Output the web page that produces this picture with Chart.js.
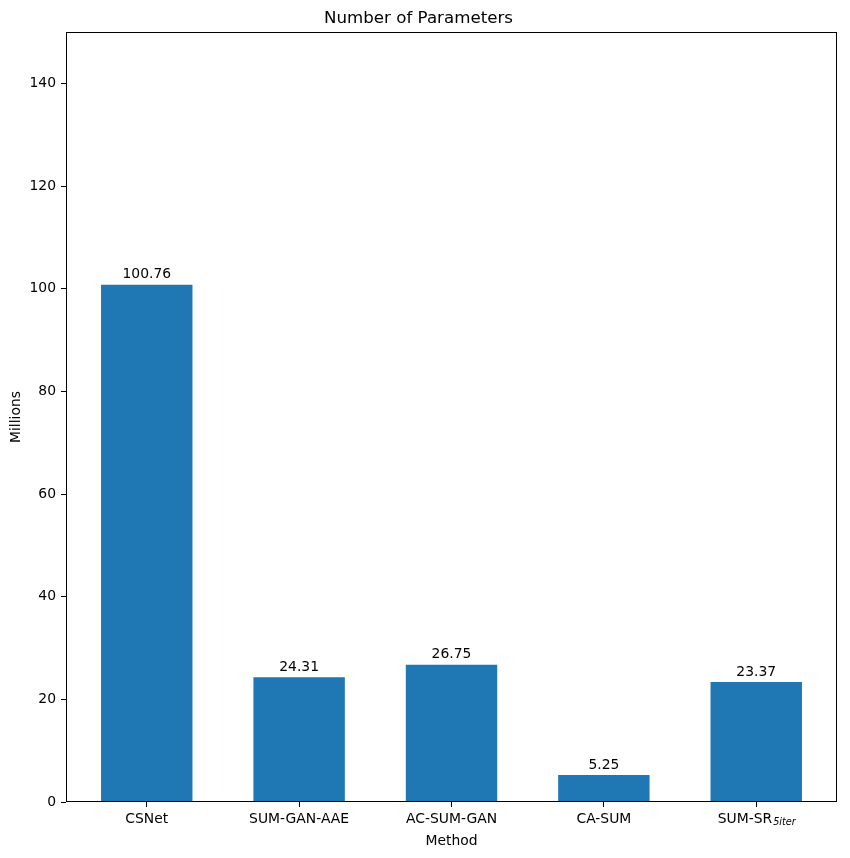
<!DOCTYPE html>
<html>
<head>
<meta charset="utf-8">
<script src="https://cdn.jsdelivr.net/npm/chart.js@4/dist/chart.umd.min.js"></script>
<style>
  html, body { margin: 0; padding: 0; background: #fff; }
  #wrap { width: 850px; height: 858px; }
</style>
</head>
<body>
<div id="wrap"><canvas id="paramChart" width="850" height="858"></canvas></div>
<script>
// --- Data ---
const methods = ["CSNet", "SUM-GAN-AAE", "AC-SUM-GAN", "CA-SUM", "SUM-SR"];
const methodSubs = ["", "", "", "", "5iter"];
const paramMillions = [100.76, 24.31, 26.75, 5.25, 23.37];
const yTicks = [0, 20, 40, 60, 80, 100, 120, 140];

const FONT = "'DejaVu Sans', sans-serif";
const BAR_BLUE = "#1f77b4";

// --- Frame + value labels + x tick labels (subscript support) ---
const extrasPlugin = {
  id: "extras",
  afterDraw(chart) {
    const { ctx, chartArea: a, scales } = chart;
    ctx.save();
    // axes box
    ctx.strokeStyle = "#000";
    ctx.lineWidth = 1;
    ctx.strokeRect(Math.round(a.left) + 0.5, Math.round(a.top) + 0.5,
      Math.round(a.right - a.left) - 1, Math.round(a.bottom - a.top) - 1);

    // value labels above bars
    ctx.fillStyle = "#000";
    ctx.font = "13.9px " + FONT;
    ctx.textAlign = "center";
    ctx.textBaseline = "bottom";
    chart.getDatasetMeta(0).data.forEach((bar, i) => {
      ctx.fillText(paramMillions[i].toFixed(2), bar.x, bar.y - 3);
    });

    // x tick labels
    ctx.textBaseline = "top";
    const ty = a.bottom + 10;
    methods.forEach((name, i) => {
      const x = scales.x.getPixelForValue(i);
      const sub = methodSubs[i];
      if (!sub) {
        ctx.textAlign = "center";
        ctx.font = "13.9px " + FONT;
        ctx.fillText(name, x, ty);
        return;
      }
      ctx.font = "13.9px " + FONT;
      const w1 = ctx.measureText(name).width;
      ctx.font = "italic 9.7px " + FONT;
      const w2 = ctx.measureText(sub).width;
      const x0 = x - (w1 + w2) / 2;
      ctx.textAlign = "left";
      ctx.font = "13.9px " + FONT;
      ctx.fillText(name, x0, ty);
      ctx.font = "italic 9.7px " + FONT;
      ctx.fillText(sub, x0 + w1 + 1, ty + 6);
    });
    ctx.restore();
  }
};

new Chart(document.getElementById("paramChart"), {
  type: "bar",
  data: {
    datasets: [{
      label: "Parameters",
      data: paramMillions.map((v, i) => ({ x: i, y: v })),
      backgroundColor: BAR_BLUE,
      borderWidth: 0,
      barPercentage: 0.6,
      categoryPercentage: 1.0
    }]
  },
  options: {
    responsive: false,
    animation: false,
    layout: { padding: { left: 0, right: 13, top: 0, bottom: 0 } },
    plugins: {
      legend: { display: false },
      tooltip: { enabled: false },
      title: {
        display: true,
        text: "Number of Parameters",
        color: "#000",
        font: { family: FONT, size: 16.67, weight: "normal" },
        padding: { top: 9, bottom: 3 }
      }
    },
    scales: {
      x: {
        type: "linear",
        offset: false,
        min: -0.53,
        max: 4.53,
        afterBuildTicks: s => { s.ticks = methods.map((_, i) => ({ value: i })); },
        afterFit: s => { s.height = 56; },
        grid: { offset: false, drawOnChartArea: false, drawTicks: true, tickLength: 5, color: "#000" },
        border: { display: false },
        ticks: { color: "rgba(0,0,0,0)", font: { family: FONT, size: 13.9 }, callback: () => "" },
        title: {
          display: true, text: "Method", color: "#000",
          font: { family: FONT, size: 13.9 },
          padding: { top: 0, bottom: 8 }
        }
      },
      y: {
        min: 0,
        max: 150,
        afterBuildTicks: s => { s.ticks = yTicks.map(v => ({ value: v })); },
        afterFit: s => { s.width = 66; },
        grid: { drawOnChartArea: false, drawTicks: true, tickLength: 5, color: "#000" },
        border: { display: false },
        ticks: { color: "#000", padding: 5, font: { family: FONT, size: 13.9 } },
        title: {
          display: true, text: "Millions", color: "#000",
          font: { family: FONT, size: 13.9 },
          padding: { top: 8, bottom: 0 }
        }
      }
    }
  },
  plugins: [extrasPlugin]
});
</script>
</body>
</html>
